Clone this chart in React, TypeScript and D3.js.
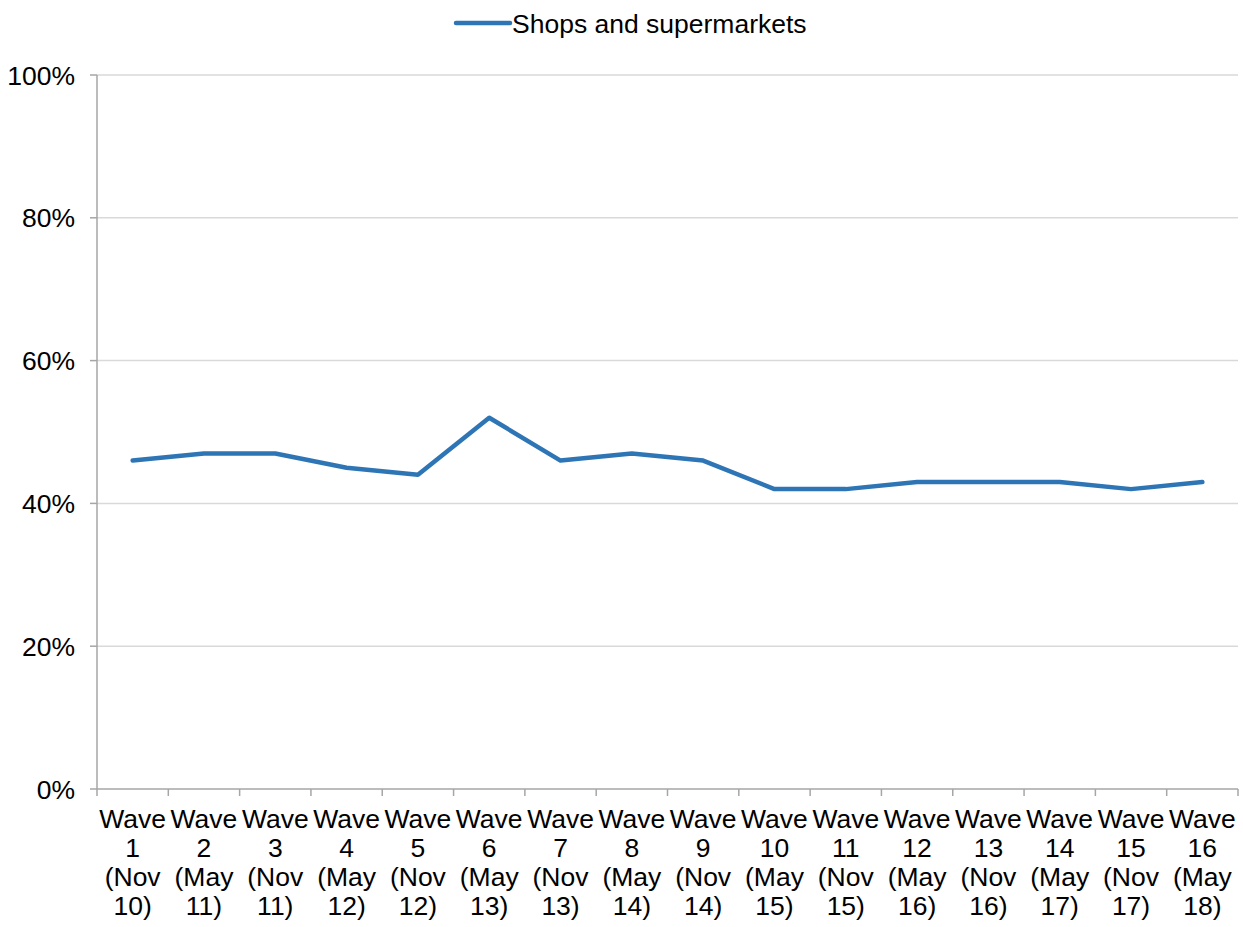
import React from "react";
import * as d3 from "d3";

const categories = ["1 (Nov 10)", "2 (May 11)", "3 (Nov 11)", "4 (May 12)", "5 (Nov 12)", "6 (May 13)", "7 (Nov 13)", "8 (May 14)", "9 (Nov 14)", "10 (May 15)", "11 (Nov 15)", "12 (May 16)", "13 (Nov 16)", "14 (May 17)", "15 (Nov 17)", "16 (May 18)"];
const labelLines = [
  ["Wave", "1", "(Nov", "10)"], ["Wave", "2", "(May", "11)"], ["Wave", "3", "(Nov", "11)"], ["Wave", "4", "(May", "12)"],
  ["Wave", "5", "(Nov", "12)"], ["Wave", "6", "(May", "13)"], ["Wave", "7", "(Nov", "13)"], ["Wave", "8", "(May", "14)"],
  ["Wave", "9", "(Nov", "14)"], ["Wave", "10", "(May", "15)"], ["Wave", "11", "(Nov", "15)"], ["Wave", "12", "(May", "16)"],
  ["Wave", "13", "(Nov", "16)"], ["Wave", "14", "(May", "17)"], ["Wave", "15", "(Nov", "17)"], ["Wave", "16", "(May", "18)"],
];
const shops = [46, 47, 47, 45, 44, 52, 46, 47, 46, 42, 42, 43, 43, 43, 42, 43];
const yTicks = [0, 20, 40, 60, 80, 100];
const seriesName = "Shops and supermarkets";

export default function App() {
  const W = 1243, H = 927;
  const left = 97, right = 1238, top = 75, bottom = 789;
  const x = d3.scaleBand<string>().domain(categories).range([left, right]);
  const y = d3.scaleLinear().domain([0, 100]).range([bottom, top]);
  const line = d3.line<number>().x((_, i) => x(categories[i])! + x.bandwidth() / 2).y((d) => y(d));
  const font = "Liberation Sans, Arial, sans-serif";
  const color = "#2E75B6";
  const fs = 26.5;
  const ticksX = categories.map((c) => x(c)!).concat([right]);
  return (
    <svg width={W} height={H} style={{ position: "absolute", left: 0, top: 0 }} fontFamily={font}>
      <rect width={W} height={H} fill="#fff" />
      {yTicks.map((t) => (
        <g key={t}>
          {t > 0 && <line x1={left} x2={right} y1={y(t)} y2={y(t)} stroke="#d9d9d9" strokeWidth={1.5} />}
          <line x1={left - 7} x2={left} y1={y(t)} y2={y(t)} stroke="#a6a6a6" strokeWidth={1.5} />
          <text x={75} y={y(t) + 9.5} textAnchor="end" fontSize={fs} fill="#000">{t}%</text>
        </g>
      ))}
      <line x1={left} x2={left} y1={top} y2={bottom} stroke="#a6a6a6" strokeWidth={1.5} />
      <line x1={left} x2={right} y1={bottom} y2={bottom} stroke="#a6a6a6" strokeWidth={1.5} />
      {ticksX.map((tx, i) => (
        <line key={i} x1={tx} x2={tx} y1={bottom} y2={bottom + 7} stroke="#a6a6a6" strokeWidth={1.5} />
      ))}
      {categories.map((c, i) => (
        <text key={c} x={x(c)! + x.bandwidth() / 2} textAnchor="middle" fontSize={fs} fill="#000">
          {labelLines[i].map((l, j) => (
            <tspan key={j} x={x(c)! + x.bandwidth() / 2} y={828 + j * 29}>{l}</tspan>
          ))}
        </text>
      ))}
      <path d={line(shops)!} fill="none" stroke={color} strokeWidth={4.5} strokeLinejoin="round" strokeLinecap="round" />
      <line x1={456} x2={510} y1={23} y2={23} stroke={color} strokeWidth={4.5} strokeLinecap="round" />
      <text x={512} y={32.5} fontSize={fs} fill="#000">{seriesName}</text>
    </svg>
  );
}
